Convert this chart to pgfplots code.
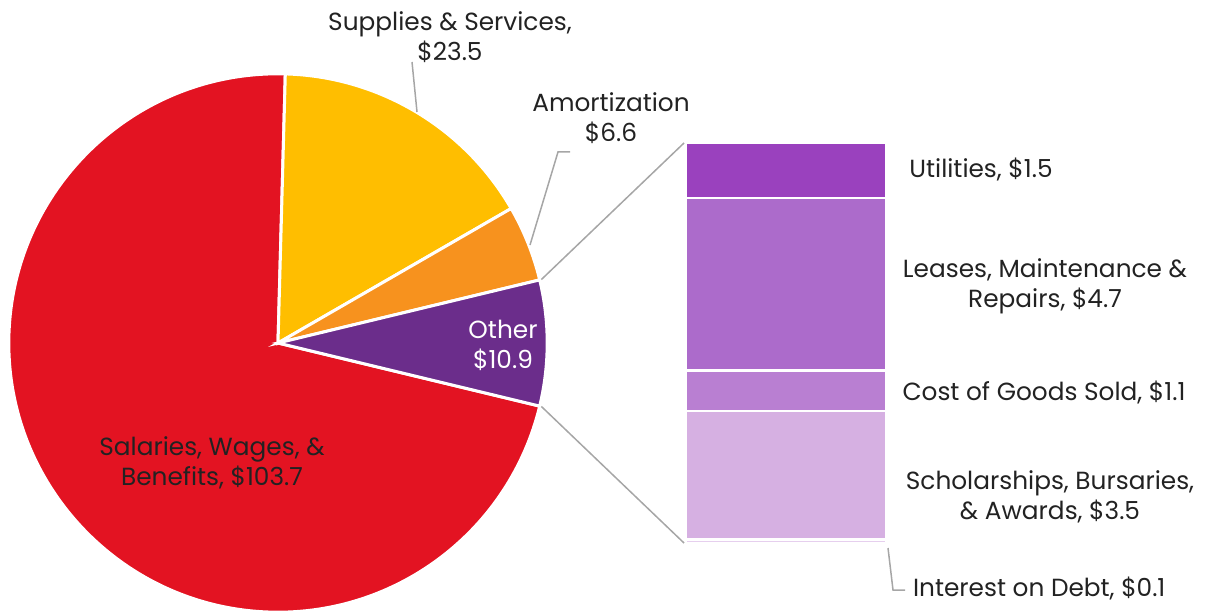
\documentclass[border=0pt]{standalone}
\usepackage{fontspec}
\setmainfont{Poppins}
\usepackage{pgfplots}
\usepackage{pgfplotstable}
\pgfplotsset{compat=1.18}

\definecolor{cSal}{HTML}{E31322}
\definecolor{cSup}{HTML}{FFBE00}
\definecolor{cAm}{HTML}{F7921E}
\definecolor{cOth}{HTML}{6B2D8B}
\definecolor{cUti}{HTML}{9A41BE}
\definecolor{cLea}{HTML}{AC6BCB}
\definecolor{cCog}{HTML}{B97FD2}
\definecolor{cSch}{HTML}{D6B0E2}
\definecolor{cInt}{HTML}{E6CFEE}
\definecolor{txt}{HTML}{222222}
\definecolor{lead}{HTML}{A6A6A6}

\pgfplotstableread{
label value
Salaries 103.7
Supplies 23.5
Amortization 6.6
Other 10.9
}\piedata

\newcommand\lbl{\fontsize{12.4}{15}\selectfont}

\begin{document}%
\begin{tikzpicture}
\pgfplotstablegetelem{0}{value}\of\piedata\let\vA\pgfplotsretval
\pgfplotstablegetelem{1}{value}\of\piedata\let\vB\pgfplotsretval
\pgfplotstablegetelem{2}{value}\of\piedata\let\vC\pgfplotsretval
\pgfplotstablegetelem{3}{value}\of\piedata\let\vD\pgfplotsretval
\pgfmathsetmacro\tot{\vA+\vB+\vC+\vD}
\pgfmathsetmacro\aD{-180*(\vD/\tot)}
\pgfmathsetmacro\aC{\aD+360*(\vD/\tot)}
\pgfmathsetmacro\aB{\aC+360*(\vC/\tot)}
\pgfmathsetmacro\aA{\aB+360*(\vB/\tot)}
\pgfmathsetmacro\aE{\aA+360*(\vA/\tot)}
\begin{axis}[
  at={(0pt,0pt)}, anchor=south west,
  scale only axis, width=604.5pt, height=305.5pt,
  xmin=0, xmax=1209, ymin=0, ymax=611,
  hide axis, clip=false,
]
% pie slices
\fill[cSal, draw=white, line width=1.5pt] (axis cs:278,268) -- ++(\aA:134.6pt) arc[start angle=\aA, end angle=\aE, radius=134.6pt] -- cycle;
\fill[cSup, draw=white, line width=1.5pt] (axis cs:278,268) -- ++(\aB:134.6pt) arc[start angle=\aB, end angle=\aA, radius=134.6pt] -- cycle;
\fill[cAm, draw=white, line width=1.5pt] (axis cs:278,268) -- ++(\aC:134.6pt) arc[start angle=\aC, end angle=\aB, radius=134.6pt] -- cycle;
\fill[cOth, draw=white, line width=1.5pt] (axis cs:278,268) -- ++(\aD:134.6pt) arc[start angle=\aD, end angle=\aC, radius=134.6pt] -- cycle;
% connectors
\draw[lead, line width=0.75pt] (axis cs:278,268) ++(\aC:135.5pt) -- (axis cs:684,468);
\draw[lead, line width=0.75pt] (axis cs:278,268) ++(\aD:135.5pt) -- (axis cs:684,68);
% leaders
\draw[lead, line width=0.75pt] (axis cs:412,549) -- (axis cs:417,499);
\draw[lead, line width=0.75pt] (axis cs:570,459) -- (axis cs:558,459) -- (axis cs:530,366);
\draw[lead, line width=0.75pt] (axis cs:888,63) -- (axis cs:893,21) -- (axis cs:905,21);
% labels
\node[txt, align=center, font=\lbl] at (axis cs:450,574) {Supplies \& Services,\\\$23.5};
\node[txt, align=center, font=\lbl] at (axis cs:611,493) {Amortization\\\$6.6};
\node[white, align=center, font=\lbl] at (axis cs:503,266) {Other\\\$10.9};
\node[txt, align=center, font=\lbl] at (axis cs:212,148) {Salaries, Wages, \&\\Benefits, \$103.7};
\node[txt, align=center, font=\lbl] at (axis cs:981,441) {Utilities, \$1.5};
\node[txt, align=center, font=\lbl] at (axis cs:1045,325) {Leases, Maintenance \&\\Repairs, \$4.7};
\node[txt, align=center, font=\lbl] at (axis cs:1044,218) {Cost of Goods Sold, \$1.1};
\node[txt, align=center, font=\lbl] at (axis cs:1050,114) {Scholarships, Bursaries,\\\& Awards, \$3.5};
\node[txt, anchor=west, font=\lbl] at (axis cs:906,23) {Interest on Debt, \$0.1};
\end{axis}
\begin{axis}[
  at={(343pt,34pt)}, anchor=south west,
  scale only axis, width=100pt, height=200pt,
  xmin=-0.5, xmax=0.5, ymin=0, ymax=10.9,
  hide axis, clip=false,
  ybar stacked, bar width=100pt,
]
\addplot[fill=cInt, draw=white, line width=1.2pt] coordinates {(0,0.1)};
\addplot[fill=cSch, draw=white, line width=1.2pt] coordinates {(0,3.5)};
\addplot[fill=cCog, draw=white, line width=1.2pt] coordinates {(0,1.1)};
\addplot[fill=cLea, draw=white, line width=1.2pt] coordinates {(0,4.7)};
\addplot[fill=cUti, draw=white, line width=1.2pt] coordinates {(0,1.5)};
\end{axis}
\pgfresetboundingbox
\path[use as bounding box] (0pt,0pt) rectangle (604.5pt,305.5pt);
\end{tikzpicture}%
\end{document}
